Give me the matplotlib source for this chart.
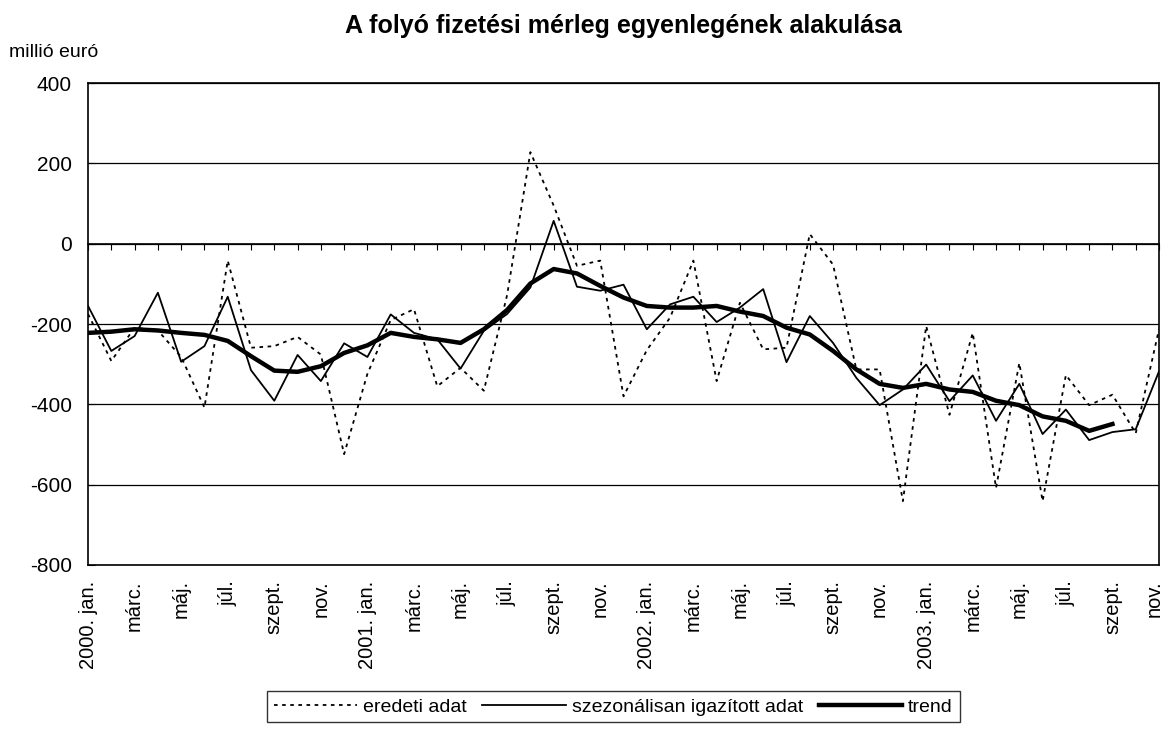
import matplotlib
matplotlib.use("Agg")
import matplotlib.pyplot as plt
import matplotlib.transforms as mtransforms
import numpy as np

plt.rcParams['font.family'] = ['Liberation Sans', 'DejaVu Sans']
plt.rcParams['axes.unicode_minus'] = False

# havi adatok, 2000. jan. - 2003. nov. (millió euró)
eredeti = [-175, -292, -209, -216, -282, -408, -42, -259, -255, -232, -276, -524,
           -324, -190, -163, -355, -309, -366, -128, 228, 95, -55, -42, -380,
           -265, -184, -42, -342, -147, -263, -259, 24, -52, -313, -313, -641,
           -205, -426, -222, -608, -297, -641, -327, -402, -376, -472, -213]
szezonalis = [-155, -267, -230, -122, -294, -255, -132, -315, -391, -277, -342, -248,
              -282, -176, -222, -238, -311, -217, -175, -109, 57, -107, -117, -102,
              -213, -151, -132, -195, -159, -113, -295, -180, -247, -334, -402, -363,
              -301, -392, -328, -441, -349, -474, -413, -489, -469, -462, -318]
trend = [-222, -219, -213, -216, -222, -227, -242, -280, -316, -319, -305, -272,
         -253, -222, -232, -238, -247, -213, -165, -99, -63, -74, -105, -134,
         -155, -159, -159, -155, -169, -180, -209, -226, -267, -313, -349, -359,
         -349, -363, -369, -391, -402, -430, -441, -466, -449]
evek = [2000, 2001, 2002, 2003]
honapok = ['jan.', 'márc.', 'máj.', 'júl.', 'szept.', 'nov.']

x = np.arange(len(eredeti))
cimkek = []
for ev in evek:
    for h in honapok:
        cimkek.append(f"{ev}. {h}" if h == 'jan.' else h)
cimkek = cimkek[:len(x[::2])]

fig = plt.figure(figsize=(11.66, 7.29), dpi=100)
ax = fig.add_axes([0.0755, 0.225, 0.9185, 0.661])

ax.plot(x, eredeti, color='black', lw=1.3, ls=(0, (2, 2.5)), label='eredeti adat')
ax.plot(x, szezonalis, color='black', lw=1.3, label='szezonálisan igazított adat')
ax.plot(np.arange(len(trend)), trend, color='black', lw=3.2, label='trend')

ax.set_xlim(0, len(x) - 1)
ax.set_ylim(-800, 400)
ax.set_yticks(np.arange(-800, 401, 200))
ax.yaxis.grid(True, color='black', lw=0.9)
ax.axhline(-800, color='black', lw=1.2, clip_on=False)
ax.tick_params(axis='y', direction='in', length=5, pad=11.5, labelsize=15)

# kategória tengely a nullánál, havi osztásokkal
ax.spines['bottom'].set_position(('data', 0))
ax.set_xticks(x)
ax.tick_params(axis='x', direction='out', length=4.5, labelbottom=False)
for s in ax.spines.values():
    s.set_color('black')
    s.set_linewidth(1.2)

sec = ax.secondary_xaxis(0.0)
sec.set_xticks(x[::2])
sec.set_xticklabels(cimkek, rotation=90, fontsize=14.5)
sec.tick_params(length=0, pad=11)
sec.spines['bottom'].set_visible(False)
# az utolsó felirat ne lógjon ki a képből
utolso = sec.get_xticklabels()[-1]
utolso.set_transform(utolso.get_transform() +
                     mtransforms.ScaledTranslation(-5 / 100, 0, fig.dpi_scale_trans))

fig.text(0.535, 0.9547, 'A folyó fizetési mérleg egyenlegének alakulása',
         ha='center', va='baseline', fontsize=18, fontweight='bold')
fig.text(0.008, 0.9218, 'millió euró', ha='left', va='baseline', fontsize=14)

leg = fig.legend(loc='upper center', bbox_to_anchor=(0.526, 0.052), ncol=3,
                 fontsize=14, frameon=True, fancybox=False, edgecolor='black',
                 handlelength=4.3, handletextpad=0.3, columnspacing=0.8,
                 borderpad=0.35, borderaxespad=0)
leg.get_frame().set_linewidth(1.0)

plt.savefig("out.png", dpi=100)
